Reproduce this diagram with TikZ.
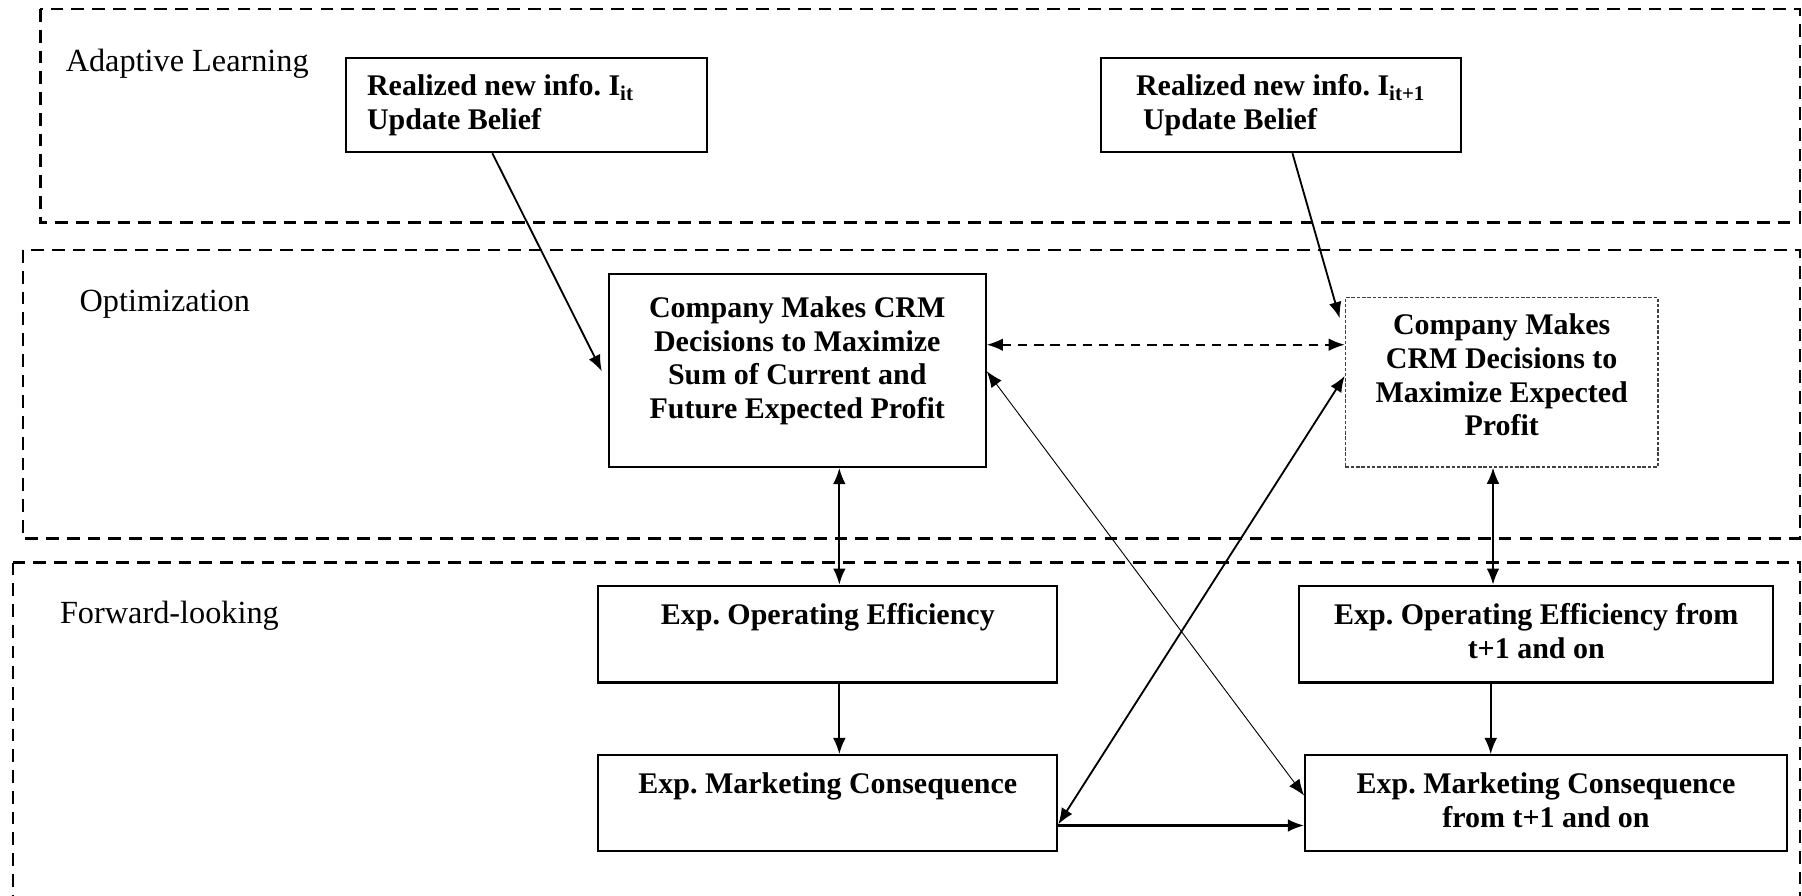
\documentclass[tikz,border=0pt]{standalone}
\usepackage{fontspec}
\setmainfont{Liberation Serif}
\usetikzlibrary{arrows.meta}
\tikzset{
  region/.style={draw, line width=1pt, dash pattern=on 5.5pt off 3.5pt},
  lab/.style={anchor=west, font=\fontsize{14}{16}\selectfont},
  box/.style={draw, line width=0.9pt, font=\fontsize{13}{14.5}\selectfont\bfseries, align=center, inner sep=0pt},
  txt/.style={font=\fontsize{13}{14.6}\selectfont\bfseries, inner sep=0pt},
  arr/.style={line width=0.8pt, -{Latex[length=7pt,width=5.5pt]}},
  darr/.style={line width=0.8pt, {Latex[length=7pt,width=5.5pt]}-{Latex[length=7pt,width=5.5pt]}},
}
\begin{document}
\frenchspacing
\begin{tikzpicture}[x=0.5pt,y=-0.5pt]
\useasboundingbox (0,0) rectangle (1563,777);
% regions
\draw[region] (35,8) rectangle (1561,193);
\draw[region] (20,217) rectangle (1561,467);
\draw[region] (11,488) -- (1561,488) -- (1561,800) (11,488) -- (11,800);
\node[lab] (lal) at (50,55) {Adaptive Learning};
\node[lab] (lop) at (62,264) {Optimization};
\node[lab] (lfw) at (45,534) {Forward-looking};
% boxes
\node[box, minimum width=313pt*0.5, minimum height=82pt*0.5] (a1) at (456.5,91) {};
\node[txt, align=left, anchor=north west] (a1t) at (318,64) {Realized new info. I\textsubscript{it}\\Update Belief};
\node[box, minimum width=312pt*0.5, minimum height=82pt*0.5] (a2) at (1111,91) {};
\node[txt, align=left, anchor=north west] (a2t) at (985,64) {Realized new info. I\textsubscript{it+1}\\\hspace{3pt}Update Belief};
\node[box, minimum width=327pt*0.5, minimum height=167pt*0.5] (o1) at (691.5,321.5) {};
\node[txt, align=center, anchor=north] (o1t) at (691.5,257) {Company Makes CRM\\Decisions to Maximize\\Sum of Current and\\Future Expected Profit};
\node[draw=black!75, line width=0.6pt, dash pattern=on 1.5pt off 0.8pt, minimum width=271pt*0.5, minimum height=147pt*0.5, inner sep=0pt] (o2) at (1302.5,331.5) {};
\node[txt, align=center, anchor=north] (o2t) at (1302.5,272) {Company Makes\\CRM Decisions to\\Maximize Expected\\Profit};
\node[box, minimum width=398pt*0.5, minimum height=84pt*0.5] (f1) at (718,550) {};
\node[txt, align=center, anchor=north] (f1t) at (718,523) {Exp. Operating Efficiency};
\node[box, minimum width=411pt*0.5, minimum height=84pt*0.5] (f2) at (1332.5,550) {};
\node[txt, align=center, anchor=north] (f2t) at (1332.5,523) {Exp. Operating Efficiency from\\t+1 and on};
\node[box, minimum width=398pt*0.5, minimum height=83pt*0.5] (f3) at (718,696.5) {};
\node[txt, align=center, anchor=north] (f3t) at (718,670) {Exp. Marketing Consequence};
\node[box, minimum width=418pt*0.5, minimum height=83pt*0.5] (f4) at (1341,696.5) {};
\node[txt, align=center, anchor=north] (f4t) at (1341,670) {Exp. Marketing Consequence\\from t+1 and on};
% coordinates
\coordinate (p1) at (522,322);
\coordinate (p2) at (1162,276);
% arrows
\draw[arr] (a1.south -| 427,0) -- (p1);
\draw[arr] (a2.south -| 1121,0) -- (p2);
\draw[darr, dash pattern=on 4pt off 3pt] (o1.east |- 0,299) -- (o2.west |- 0,299);
\draw[darr] (o1.south -| 728,0) -- (f1.north -| 728,0);
\draw[darr] (o2.south -| 1295,0) -- (f2.north -| 1295,0);
\draw[arr] (f1.south -| 728,0) -- (f3.north -| 728,0);
\draw[arr] (f2.south -| 1293,0) -- (f4.north -| 1293,0);
\draw[arr, line width=1pt] (f3.east |- 0,716) -- (f4.west |- 0,716);
\draw[darr] (f3.east |- 0,715) -- (o2.west |- 0,326);
\draw[line width=0.4pt, {Latex[length=7pt,width=5.5pt]}-{Latex[length=7pt,width=5.5pt]}] (o1.east |- 0,322) -- (f4.west |- 0,690);
\end{tikzpicture}
\end{document}
